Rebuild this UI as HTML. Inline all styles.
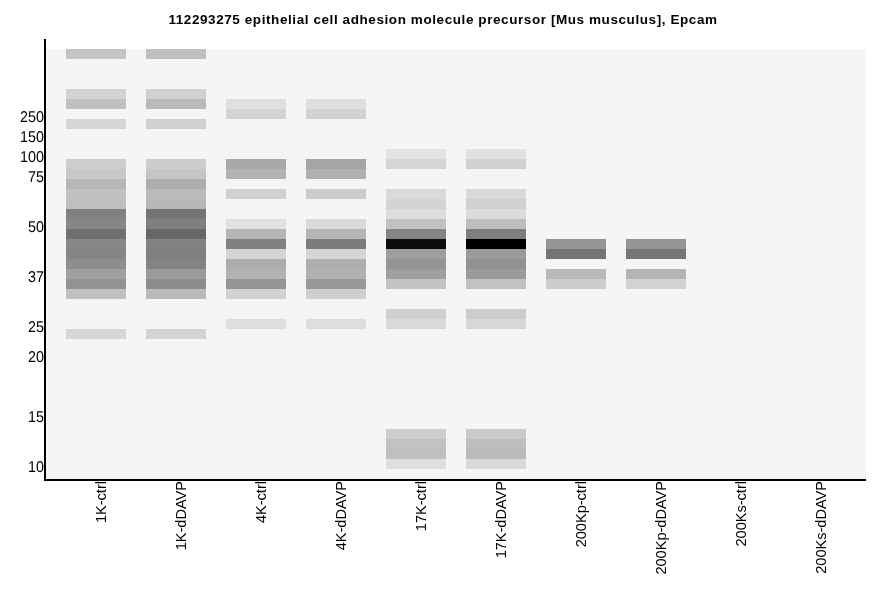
<!DOCTYPE html>
<html><head><meta charset="utf-8"><title>Epcam</title>
<style>
html,body{margin:0;padding:0;background:#fff;}
body{width:886px;height:595px;position:relative;overflow:hidden;font-family:"Liberation Sans",Arial,sans-serif;color:#000;}
#plot{position:absolute;left:46px;top:49px;width:820px;height:430px;background:#f4f5f5;}
.b{position:absolute;width:60px;height:10px;}
#ax-y{position:absolute;left:44px;top:39px;width:2px;height:442px;background:#000;}
#ax-x{position:absolute;left:44px;top:479px;width:822px;height:2px;background:#000;}
#title{position:absolute;left:0;top:12px;width:886px;text-align:center;font-weight:bold;font-size:13.5px;line-height:16px;white-space:nowrap;letter-spacing:0.58px;transform:rotate(0.02deg);}
.t{position:absolute;left:0;width:44px;text-align:right;font-size:15.6px;line-height:16px;height:16px;transform-origin:100% 13px;transform:scaleX(0.92) rotate(0.03deg);}
.x{position:absolute;font-size:15px;line-height:16px;height:16px;white-space:nowrap;transform-origin:0 0;transform:rotate(-90deg) scaleX(0.97) translateX(-100%);}
</style></head><body>
<div id="title">112293275 epithelial cell adhesion molecule precursor [Mus musculus], Epcam</div>
<div id="plot"></div>
<div class="b" style="left:66px;top:49px;background:#c4c4c4"></div><div class="b" style="left:66px;top:89px;background:#d3d3d3"></div><div class="b" style="left:66px;top:99px;background:#c0c0c0"></div><div class="b" style="left:66px;top:119px;background:#d6d6d6"></div><div class="b" style="left:66px;top:159px;background:#cfcfcf"></div><div class="b" style="left:66px;top:169px;background:#c8c8c8"></div><div class="b" style="left:66px;top:179px;background:#b6b6b6"></div><div class="b" style="left:66px;top:189px;background:#c1c1c1"></div><div class="b" style="left:66px;top:199px;background:#bfbfbf"></div><div class="b" style="left:66px;top:209px;background:#808080"></div><div class="b" style="left:66px;top:219px;background:#868686"></div><div class="b" style="left:66px;top:229px;background:#707070"></div><div class="b" style="left:66px;top:239px;background:#878787"></div><div class="b" style="left:66px;top:249px;background:#858585"></div><div class="b" style="left:66px;top:259px;background:#8d8d8d"></div><div class="b" style="left:66px;top:269px;background:#a0a0a0"></div><div class="b" style="left:66px;top:279px;background:#929292"></div><div class="b" style="left:66px;top:289px;background:#c0c0c0"></div><div class="b" style="left:66px;top:329px;background:#d6d6d6"></div>
<div class="b" style="left:146px;top:49px;background:#bebebe"></div><div class="b" style="left:146px;top:89px;background:#d0d0d0"></div><div class="b" style="left:146px;top:99px;background:#b9b9b9"></div><div class="b" style="left:146px;top:119px;background:#d0d0d0"></div><div class="b" style="left:146px;top:159px;background:#cdcdcd"></div><div class="b" style="left:146px;top:169px;background:#c5c5c5"></div><div class="b" style="left:146px;top:179px;background:#adadad"></div><div class="b" style="left:146px;top:189px;background:#bbbbbb"></div><div class="b" style="left:146px;top:199px;background:#b7b7b7"></div><div class="b" style="left:146px;top:209px;background:#747474"></div><div class="b" style="left:146px;top:219px;background:#7e7e7e"></div><div class="b" style="left:146px;top:229px;background:#676767"></div><div class="b" style="left:146px;top:239px;background:#828282"></div><div class="b" style="left:146px;top:249px;background:#7f7f7f"></div><div class="b" style="left:146px;top:259px;background:#848484"></div><div class="b" style="left:146px;top:269px;background:#9b9b9b"></div><div class="b" style="left:146px;top:279px;background:#8b8b8b"></div><div class="b" style="left:146px;top:289px;background:#bababa"></div><div class="b" style="left:146px;top:329px;background:#d4d4d4"></div>
<div class="b" style="left:226px;top:99px;background:#e0e0e0"></div><div class="b" style="left:226px;top:109px;background:#d4d4d4"></div><div class="b" style="left:226px;top:159px;background:#a8a8a8"></div><div class="b" style="left:226px;top:169px;background:#b2b2b2"></div><div class="b" style="left:226px;top:189px;background:#d0d0d0"></div><div class="b" style="left:226px;top:219px;background:#e1e1e1"></div><div class="b" style="left:226px;top:229px;background:#b5b5b5"></div><div class="b" style="left:226px;top:239px;background:#818181"></div><div class="b" style="left:226px;top:249px;background:#d4d4d4"></div><div class="b" style="left:226px;top:259px;background:#adadad"></div><div class="b" style="left:226px;top:269px;background:#b2b2b2"></div><div class="b" style="left:226px;top:279px;background:#959595"></div><div class="b" style="left:226px;top:289px;background:#d2d2d2"></div><div class="b" style="left:226px;top:319px;background:#dfdfdf"></div>
<div class="b" style="left:306px;top:99px;background:#dedede"></div><div class="b" style="left:306px;top:109px;background:#d2d2d2"></div><div class="b" style="left:306px;top:159px;background:#a5a5a5"></div><div class="b" style="left:306px;top:169px;background:#b0b0b0"></div><div class="b" style="left:306px;top:189px;background:#cccccc"></div><div class="b" style="left:306px;top:219px;background:#d9d9d9"></div><div class="b" style="left:306px;top:229px;background:#b6b6b6"></div><div class="b" style="left:306px;top:239px;background:#7c7c7c"></div><div class="b" style="left:306px;top:249px;background:#d5d5d5"></div><div class="b" style="left:306px;top:259px;background:#aeaeae"></div><div class="b" style="left:306px;top:269px;background:#b1b1b1"></div><div class="b" style="left:306px;top:279px;background:#989898"></div><div class="b" style="left:306px;top:289px;background:#cfcfcf"></div><div class="b" style="left:306px;top:319px;background:#dedede"></div>
<div class="b" style="left:386px;top:149px;background:#e3e3e3"></div><div class="b" style="left:386px;top:159px;background:#d5d5d5"></div><div class="b" style="left:386px;top:189px;background:#dadada"></div><div class="b" style="left:386px;top:199px;background:#d3d3d3"></div><div class="b" style="left:386px;top:209px;background:#dddddd"></div><div class="b" style="left:386px;top:219px;background:#c2c2c2"></div><div class="b" style="left:386px;top:229px;background:#858585"></div><div class="b" style="left:386px;top:239px;background:#0c0c0c"></div><div class="b" style="left:386px;top:249px;background:#9e9e9e"></div><div class="b" style="left:386px;top:259px;background:#959595"></div><div class="b" style="left:386px;top:269px;background:#9f9f9f"></div><div class="b" style="left:386px;top:279px;background:#c3c3c3"></div><div class="b" style="left:386px;top:309px;background:#cfcfcf"></div><div class="b" style="left:386px;top:319px;background:#d9d9d9"></div><div class="b" style="left:386px;top:429px;background:#cdcdcd"></div><div class="b" style="left:386px;top:439px;background:#c2c2c2"></div><div class="b" style="left:386px;top:449px;background:#bfbfbf"></div><div class="b" style="left:386px;top:459px;background:#dfdfdf"></div>
<div class="b" style="left:466px;top:149px;background:#e1e1e1"></div><div class="b" style="left:466px;top:159px;background:#d1d1d1"></div><div class="b" style="left:466px;top:189px;background:#dadada"></div><div class="b" style="left:466px;top:199px;background:#d0d0d0"></div><div class="b" style="left:466px;top:209px;background:#dbdbdb"></div><div class="b" style="left:466px;top:219px;background:#bebebe"></div><div class="b" style="left:466px;top:229px;background:#7e7e7e"></div><div class="b" style="left:466px;top:239px;background:#000000"></div><div class="b" style="left:466px;top:249px;background:#9a9a9a"></div><div class="b" style="left:466px;top:259px;background:#919191"></div><div class="b" style="left:466px;top:269px;background:#9b9b9b"></div><div class="b" style="left:466px;top:279px;background:#c2c2c2"></div><div class="b" style="left:466px;top:309px;background:#cccccc"></div><div class="b" style="left:466px;top:319px;background:#d8d8d8"></div><div class="b" style="left:466px;top:429px;background:#cacaca"></div><div class="b" style="left:466px;top:439px;background:#bebebe"></div><div class="b" style="left:466px;top:449px;background:#bababa"></div><div class="b" style="left:466px;top:459px;background:#dadada"></div>
<div class="b" style="left:546px;top:239px;background:#959595"></div><div class="b" style="left:546px;top:249px;background:#747474"></div><div class="b" style="left:546px;top:269px;background:#bababa"></div><div class="b" style="left:546px;top:279px;background:#cdcdcd"></div>
<div class="b" style="left:626px;top:239px;background:#959595"></div><div class="b" style="left:626px;top:249px;background:#767676"></div><div class="b" style="left:626px;top:269px;background:#b5b5b5"></div><div class="b" style="left:626px;top:279px;background:#d2d2d2"></div>
<div id="ax-y"></div><div id="ax-x"></div>
<div class="t" style="top:109px">250</div><div class="t" style="top:129px">150</div><div class="t" style="top:149px">100</div><div class="t" style="top:169px">75</div><div class="t" style="top:219px">50</div><div class="t" style="top:269px">37</div><div class="t" style="top:319px">25</div><div class="t" style="top:349px">20</div><div class="t" style="top:409px">15</div><div class="t" style="top:459px">10</div>
<div class="x" style="left:93px;top:481px">1K-ctrl</div><div class="x" style="left:173px;top:481px">1K-dDAVP</div><div class="x" style="left:253px;top:481px">4K-ctrl</div><div class="x" style="left:333px;top:481px">4K-dDAVP</div><div class="x" style="left:413px;top:481px">17K-ctrl</div><div class="x" style="left:493px;top:481px">17K-dDAVP</div><div class="x" style="left:573px;top:481px">200Kp-ctrl</div><div class="x" style="left:653px;top:481px">200Kp-dDAVP</div><div class="x" style="left:733px;top:481px">200Ks-ctrl</div><div class="x" style="left:813px;top:481px">200Ks-dDAVP</div>
</body></html>
